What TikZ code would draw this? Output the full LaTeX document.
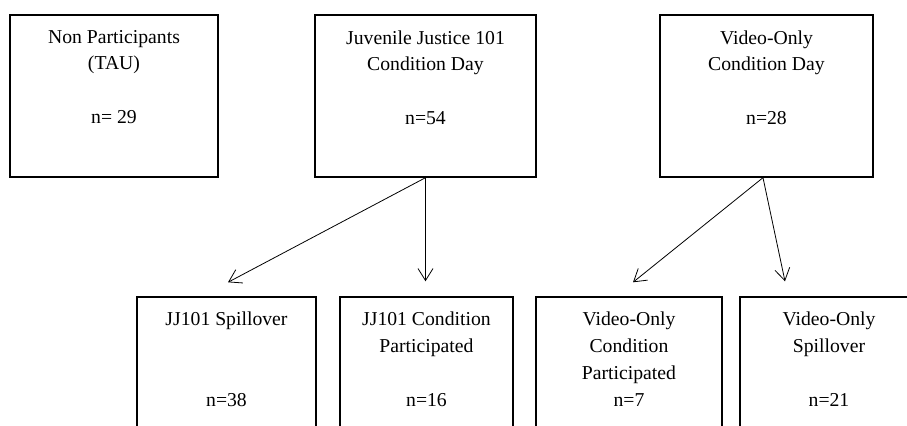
\documentclass[tikz,border=0pt]{standalone}
\usepackage{fontspec}
\setmainfont{Liberation Serif}
\usepackage{tikz}
\usetikzlibrary{arrows.meta,positioning,calc}

\begin{document}
\begin{tikzpicture}[
      x=0.5pt, y=-0.5pt,
      box/.style={draw, line width=0.7pt, inner sep=0pt, minimum height=81pt},
      lowbox/.style={box, minimum height=81.5pt},
      boxtext/.style={anchor=north, align=center, inner sep=0pt, font=\fontsize{9.85}{13}\selectfont},
      lowtext/.style={boxtext, font=\fontsize{9.85}{13.5}\selectfont},
      arrow/.style={line width=0.4pt, -{Straight Barb[length=6pt, width=7.5pt, line width=0.4pt]}}
  ]
    \useasboundingbox (0,0) rectangle (907,426);
    \clip (0,0) rectangle (907,426);

    % top row
    \node[box, minimum width=104pt] (tau) at (114,96) {};
    \node[box, minimum width=110.5pt] (jj) at (425.5,96) {};
    \node[box, minimum width=106.5pt] (vid) at (766.5,96) {};
    \node[boxtext] (tau-txt) at (114,30) {Non Participants\\(TAU)\\[14pt]n= 29};
    \node[boxtext] (jj-txt) at (425.5,30) {Juvenile Justice 101\\Condition Day\\[14pt]n=54};
    \node[boxtext] (vid-txt) at (766.5,30) {Video-Only\\Condition Day\\[14pt]n=28};

    % bottom row
    \node[lowbox, minimum width=89.5pt] (jjspill) at (226.5,378.5) {};
    \node[lowbox, minimum width=86.5pt] (jjpart) at (426.5,378.5) {};
    \node[lowbox, minimum width=93pt] (vidpart) at (629,378.5) {};
    \node[lowbox, minimum width=89pt] (vidspill) at (829,378.5) {};
    \node[lowtext] (jjspill-txt) at (226.5,311) {JJ101 Spillover\\[27pt]n=38};
    \node[lowtext] (jjpart-txt) at (426.5,311) {JJ101 Condition\\Participated\\[13.5pt]n=16};
    \node[lowtext] (vidpart-txt) at (629,311) {Video-Only\\Condition\\Participated\\n=7};
    \node[lowtext] (vidspill-txt) at (829,311) {Video-Only\\Spillover\\[13.5pt]n=21};

    \draw[arrow] (jj.south) -- ([xshift=0.75pt, yshift=7pt]jjspill.north);
    \draw[arrow] (jj.south) -- ([xshift=-0.5pt, yshift=7.5pt]jjpart.north);
    \draw[arrow] ([xshift=-1.75pt]vid.south) -- ([xshift=2pt, yshift=7pt]vidpart.north);
    \draw[arrow] ([xshift=-1.75pt]vid.south) -- ([xshift=-22pt, yshift=7.5pt]vidspill.north);
\end{tikzpicture}
\end{document}
